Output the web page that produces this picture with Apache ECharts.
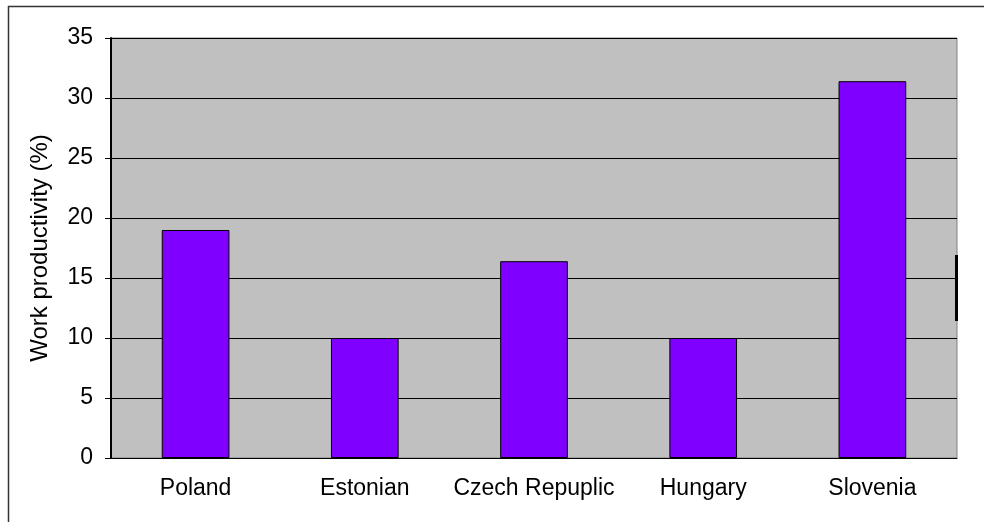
<!DOCTYPE html>
<html>
<head>
<meta charset="utf-8">
<script src="https://cdn.jsdelivr.net/npm/echarts@6/dist/echarts.min.js"></script>
<style>
  html, body { margin: 0; padding: 0; background: #fff; }
  #main { width: 984px; height: 522px; }
</style>
</head>
<body>
<div id="main"></div>
<script>
// data
var countries = ['Poland', 'Estonian', 'Czech Repuplic', 'Hungary', 'Slovenia']
var productivity = [19, 10, 16.4, 10, 31.4]
var yTicks = { min: 0, max: 35, step: 5 }

var font = 'Arial, "Liberation Sans", sans-serif'

var chart = echarts.init(document.getElementById('main'))
chart.setOption({
  animation: false,
  backgroundColor: '#fff',
  grid: {
    left: 111,
    right: 27,
    top: 38,
    bottom: 64,
    show: true,
    backgroundColor: '#C0C0C0',
    borderColor: '#808080',
    borderWidth: 1
  },
  xAxis: {
    type: 'category',
    data: countries,
    axisLine: { lineStyle: { color: '#000', width: 1 } },
    axisTick: { length: 6, lineStyle: { color: '#000' } },
    axisLabel: { interval: 0, color: '#000', fontSize: 23, fontFamily: font, margin: 19 }
  },
  yAxis: {
    type: 'value',
    min: yTicks.min,
    max: yTicks.max,
    interval: yTicks.step,
    name: 'Work productivity (%)',
    nameLocation: 'middle',
    nameGap: 59,
    nameTextStyle: { color: '#000', fontSize: 24, fontFamily: font },
    axisLine: { show: true, lineStyle: { color: '#000', width: 2 } },
    axisTick: { show: true, length: 6, lineStyle: { color: '#000' } },
    axisLabel: { color: '#000', fontSize: 23, fontFamily: font, margin: 18 },
    splitLine: { show: true, lineStyle: { color: '#000', width: 1 } }
  },
  series: [
    {
      type: 'bar',
      data: productivity,
      barWidth: '40%',
      itemStyle: { color: '#8000FF', borderColor: '#000', borderWidth: 1 }
    }
  ],
  graphic: [
    // outer frame (right/bottom edges run off the picture)
    {
      type: 'rect',
      shape: { x: 8.5, y: 6.5, width: 1200, height: 1200 },
      style: { fill: 'none', stroke: '#333', lineWidth: 1.5 },
      silent: true
    },
    // small dark stroke on the right edge of the plot
    {
      type: 'rect',
      shape: { x: 955, y: 255, width: 3, height: 66 },
      style: { fill: '#000' },
      silent: true
    }
  ]
})
</script>
</body>
</html>
